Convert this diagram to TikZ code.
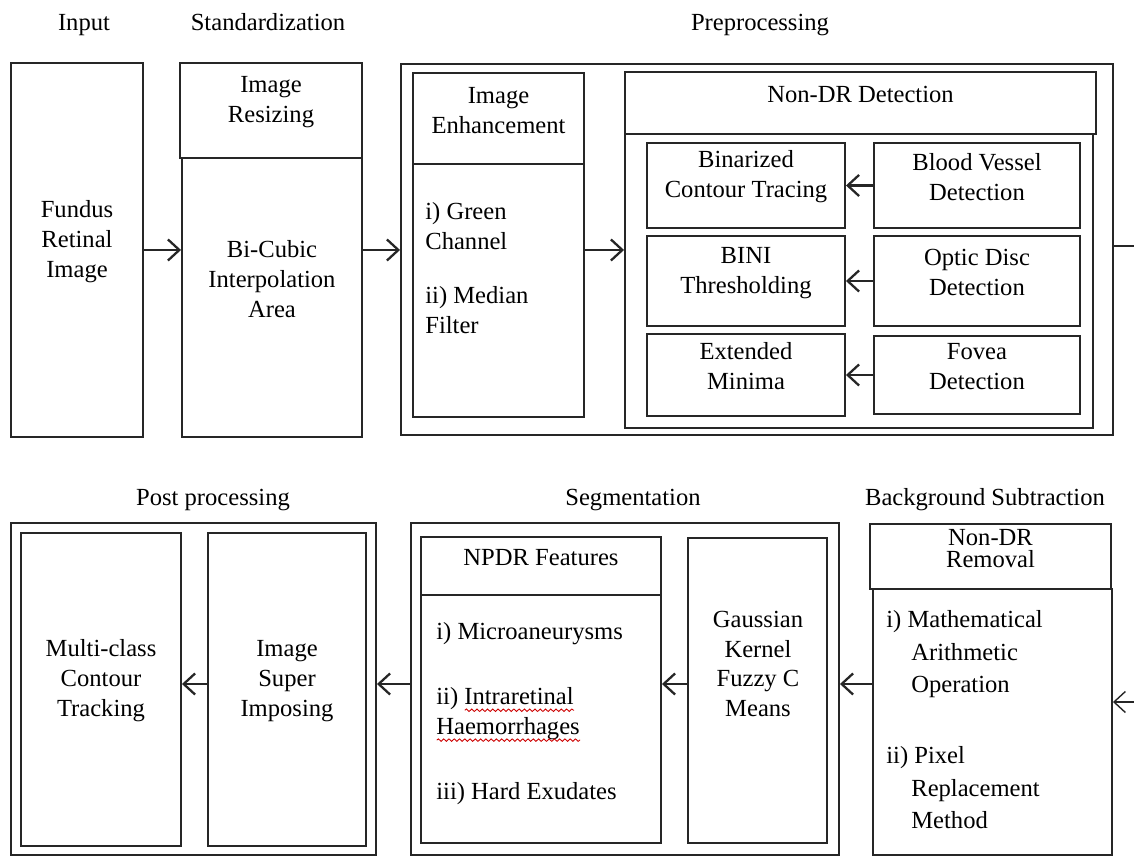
\documentclass[tikz,border=0pt]{standalone}
\usepackage{fontspec}
\setmainfont{Liberation Serif}
\usetikzlibrary{fit,arrows.meta,decorations.pathmorphing}
\newcommand\spellwave[1]{\setbox0=\hbox{#1}\rlap{\usebox0}\tikz[baseline=0pt,x=1pt,y=1pt]\draw[red!80!black,line width=0.5pt,decorate,decoration={snake,amplitude=0.7pt,segment length=3pt}] (0pt,-3pt) -- (\the\wd0,-3pt);}
\begin{document}
\begin{tikzpicture}[x=0.02cm,y=-0.02cm,
    font=\fontsize{14}{17}\selectfont,
    box/.style={draw=black!85, line width=1.1pt, inner sep=0pt, align=center},
    txt/.style={inner sep=0pt, align=center},
    lbl/.style={inner sep=0pt, anchor=base},
    arr/.style={-{Straight Barb[length=6.5pt,width=12pt]}, line width=1.3pt, draw=black!85}]
  \useasboundingbox (0,0) rectangle (1134,857);
  \coordinate (rowA) at (0,250);
  \coordinate (rowB) at (0,684);
  \coordinate (exitR) at (1134,246);
  \coordinate (entryR) at (1134,702);

  \node[lbl] (lblinput) at (84,31) {Input};
  \node[lbl] (lblstd) at (268,31) {Standardization};
  \node[lbl] (lblprep) at (760,31) {Preprocessing};

  \node[box, fit={(11,63) (143,437)}] (input) {Fundus\\Retinal\\Image};
  \node[box, fit={(180,63) (362,158)}] (resize) {Image\\Resizing};
  \node[box, fit={(182,158) (362,437)}] (bicubic) {};
  \node[txt] (bicubictext) at (272,279) {Bi-Cubic\\Interpolation\\Area};
  \node[box, fit={(401,64) (1113,435)}] (prep) {};
  \node[box, fit={(413,73) (584,164)}] (enhance) {Image\\Enhancement};
  \node[box, fit={(413,164) (584,417)}] (enhbody) {};
  \node[txt, anchor=west, align=left] (enhtext) at (425,268) {i) Green\\Channel\\[14pt]ii) Median\\Filter};
  \node[box, fit={(625,134) (1093,428)}] (ndframe) {};
  \node[box, fit={(625,72) (1096,134)}] (ndhead) {Non-DR Detection};
  \node[box, fit={(647,143) (845,228)}] (binar) {Binarized\\Contour Tracing};
  \node[box, fit={(647,236) (845,326)}] (bini) {BINI\\Thresholding};
  \node[box, fit={(647,334) (845,416)}] (minima) {Extended\\Minima};
  \node[box, fit={(874,143) (1080,228)}] (vessel) {Blood Vessel\\Detection};
  \node[box, fit={(874,236) (1080,326)}] (optic) {Optic Disc\\Detection};
  \node[box, fit={(874,336) (1080,414)}] (fovea) {Fovea\\Detection};

  \node[lbl] (lblpost) at (213,506) {Post processing};
  \node[lbl] (lblseg) at (633,506) {Segmentation};
  \node[lbl] (lblback) at (985,506) {Background Subtraction};

  \node[box, fit={(11,523) (376,855)}] (post) {};
  \node[box, fit={(21,533) (181,846)}] (multi) {Multi-class\\Contour\\Tracking};
  \node[box, fit={(208,533) (366,846)}] (superimp) {Image\\Super\\Imposing};
  \node[box, fit={(411,523) (839,855)}] (seg) {};
  \node[box, fit={(421,537) (661,595)}] (npdr) {NPDR Features};
  \node[box, fit={(421,595) (661,843)}] (npdrbody) {};
  \node[txt, anchor=west, align=left] (npdrtext) at (436,714) {i) Microaneurysms\\[20pt]ii) \spellwave{Intraretinal}\\\spellwave{Haemorrhages}\\[20pt]iii) Hard Exudates};
  \node[box, fit={(688,538) (827,843)}] (gauss) {};
  \node[txt] (gausstext) at (758,664) {Gaussian\\Kernel\\Fuzzy C\\Means};
  \node[box, fit={(870,524) (1111,589)}, font=\fontsize{14}{12.5}\selectfont] (nrhead) {Non-DR\\Removal};
  \node[box, fit={(873,589) (1112,855)}] (nrbody) {};
  \node[txt, anchor=west, align=left, font=\fontsize{14}{18.5}\selectfont] (nrtext) at (886,720)
    {i) Mathematical\\\hspace*{0.5cm}Arithmetic\\\hspace*{0.5cm}Operation\\[22pt]ii) Pixel\\\hspace*{0.5cm}Replacement\\\hspace*{0.5cm}Method};

  \draw[arr] (input.east |- rowA) -- (bicubic.west |- rowA);
  \draw[arr] (bicubic.east |- rowA) -- (prep.west |- rowA);
  \draw[arr] (enhbody.east |- rowA) -- (ndframe.west |- rowA);
  \draw[arr] (vessel) -- (binar);
  \draw[arr] (optic) -- (bini);
  \draw[arr] (fovea) -- (minima);
  \draw[line width=1.3pt, draw=black!85] (prep.east |- exitR) -- (exitR);
  \draw[arr, line width=0.8pt] (entryR) -- (nrbody.east |- entryR);
  \draw[arr] (nrbody.west |- rowB) -- (seg.east |- rowB);
  \draw[arr] (gauss.west |- rowB) -- (npdrbody.east |- rowB);
  \draw[arr] (seg.west |- rowB) -- (post.east |- rowB);
  \draw[arr] (superimp.west |- rowB) -- (multi.east |- rowB);
\end{tikzpicture}
\end{document}
